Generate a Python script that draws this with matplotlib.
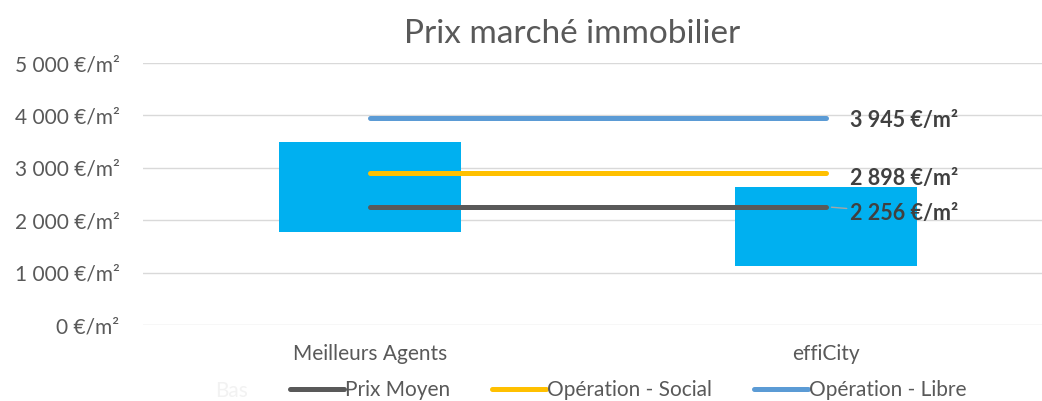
import matplotlib.pyplot as plt
from matplotlib.ticker import FuncFormatter

# data
sources = ['Meilleurs Agents', 'effiCity']
bas = [1780, 1130]        # bas de la fourchette
haut = [3500, 2640]       # haut de la fourchette
prix_moyen = 2256
op_social = 2898
op_libre = 3945

plt.rcParams['font.family'] = ['Lato', 'DejaVu Sans']
grey = '#595959'

fig = plt.figure(figsize=(10.42, 4.01), dpi=100)
ax = fig.add_axes([143/1042, 1 - 325/401, 899/1042, (325 - 63)/401])

x = range(len(sources))
ax.bar(x, [h - b for h, b in zip(haut, bas)], bottom=bas, width=0.40,
       color='#00B0F0', zorder=2)

series = [('Prix Moyen', prix_moyen, '#595959'),
          ('Opération - Social', op_social, '#FFC000'),
          ('Opération - Libre', op_libre, '#5B9BD5')]
for name, val, col in series:
    ax.plot([0, 1], [val, val], color=col, lw=3.6, solid_capstyle='round',
            label=name, zorder=3)

fmt = lambda v: f"{v:,.0f}".replace(',', ' ') + ' €/m²'

# value labels
offsets = {op_libre: -1.5, op_social: -3.5, prix_moyen: -4.5}
for name, val, col in series:
    kw = {}
    if val == prix_moyen:
        kw['arrowprops'] = dict(arrowstyle='-', color='#a6a6a6', lw=1,
                                shrinkA=0, shrinkB=4)
    ax.annotate(fmt(val), xy=(1, val), xytext=(17, offsets[val]),
                textcoords='offset points', ha='left', va='center',
                fontsize=15.5, fontweight='bold', color='#404040', **kw)

ax.set_xlim(-0.498, 1.474)
ax.set_ylim(0, 5000)
ax.set_yticks(range(0, 5001, 1000))
ax.yaxis.set_major_formatter(FuncFormatter(lambda v, p: fmt(v)))
ax.set_xticks(list(x))
ax.set_xticklabels(sources)
ax.tick_params(axis='both', length=0, labelsize=15, colors=grey)
ax.tick_params(axis='y', pad=17)
ax.tick_params(axis='x', pad=14)
ax.grid(axis='y', color='#d9d9d9', lw=1, zorder=0)
for s in ax.spines.values():
    s.set_visible(False)

fig.text(572/1042, 1 - 34/401, 'Prix marché immobilier', ha='center',
         va='center', fontsize=24, color=grey)

fig.text(232/1042, 1 - 391/401, 'Bas', ha='center', va='center',
         fontsize=15, color='#f2f2f2')
fig.legend(loc='center', bbox_to_anchor=(628/1042, 1 - 390/401), ncol=3,
           frameon=False, fontsize=15, handlelength=2.6, handletextpad=0.05,
           columnspacing=2.0, labelcolor=grey)

fig.savefig('out.png', dpi=100)
